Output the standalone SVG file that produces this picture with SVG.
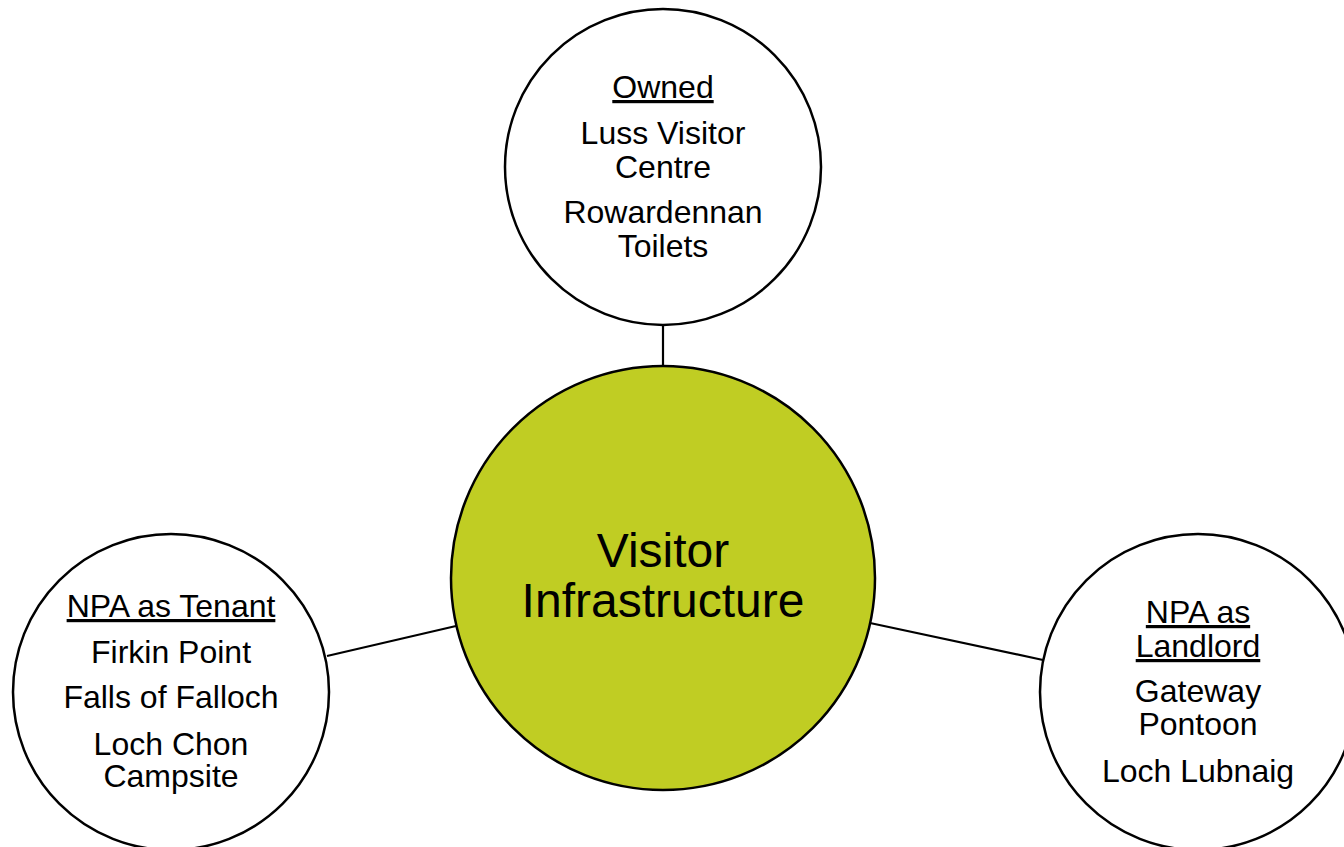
<svg xmlns="http://www.w3.org/2000/svg" width="1344" height="847" viewBox="0 0 1344 847">
<style>
.node{fill:#ffffff;stroke:#000000;stroke-width:2.5}
.hub{fill:#C0CD23;stroke:#000000;stroke-width:2.5}
.conn{stroke:#000000;stroke-width:2.2;fill:none}
text{font-family:"Liberation Sans",Arial,sans-serif;fill:#000000;text-anchor:middle}
.t{font-size:32px}
.h{font-size:48px}
.u{text-decoration:underline}
</style>
<rect width="1344" height="847" fill="#ffffff"/>
<g id="connectors">
<line class="conn" x1="663" y1="325" x2="663" y2="366"/>
<line class="conn" x1="327" y1="656" x2="456" y2="626"/>
<line class="conn" x1="870" y1="623" x2="1043" y2="660"/>
</g>
<g id="hub">
<circle class="hub" cx="663" cy="578" r="212"/>
<text class="h" x="663" y="567">Visitor</text>
<text class="h" x="663" y="617">Infrastructure</text>
</g>
<g id="owned">
<circle class="node" cx="663" cy="167" r="158"/>
<text class="t u" x="663" y="98">Owned</text>
<text class="t" x="663" y="144">Luss Visitor</text>
<text class="t" x="663" y="178">Centre</text>
<text class="t" x="663" y="223">Rowardennan</text>
<text class="t" x="663" y="257">Toilets</text>
</g>
<g id="tenant">
<circle class="node" cx="171" cy="692" r="158"/>
<text class="t u" x="171" y="617">NPA as Tenant</text>
<text class="t" x="171" y="663">Firkin Point</text>
<text class="t" x="171" y="708">Falls of Falloch</text>
<text class="t" x="171" y="755">Loch Chon</text>
<text class="t" x="171" y="787">Campsite</text>
</g>
<g id="landlord">
<circle class="node" cx="1198" cy="692" r="158"/>
<text class="t u" x="1198" y="623">NPA as</text>
<text class="t u" x="1198" y="657">Landlord</text>
<text class="t" x="1198" y="702">Gateway</text>
<text class="t" x="1198" y="735">Pontoon</text>
<text class="t" x="1198" y="782">Loch Lubnaig</text>
</g>
</svg>
